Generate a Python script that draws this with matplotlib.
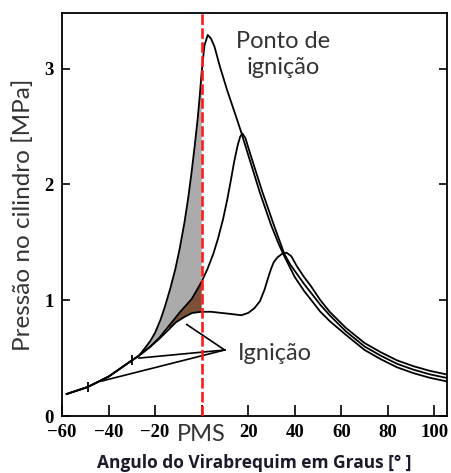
import numpy as np
import matplotlib
matplotlib.use('Agg')
import matplotlib.pyplot as plt

# shared compression line (before any ignition)
comp_deg = [-58, -49, -43, -40, -35, -30, -27]
comp_mpa = [0.19, 0.25, 0.31, 0.34, 0.41, 0.48, 0.52]

# early ignition -> peak ~3.3 MPa
a_deg = [-25, -22, -20, -17.7, -15.7, -13.5, -11.3, -9.5, -7.4, -5.8, -4.3, -3, -1.7, -0.8, 0,
         1.2, 2.6, 4, 5.5, 7.8, 11, 14.2, 17, 21.3, 25, 29.8, 33, 35.5, 40, 44, 51, 55, 62,
         70, 77, 84, 91, 98, 105]
a_mpa = [0.57, 0.65, 0.72, 0.83, 0.95, 1.10, 1.27, 1.44, 1.67, 1.88, 2.11, 2.33, 2.57, 2.77, 2.97,
         3.20, 3.29, 3.26, 3.19, 3.02, 2.81, 2.62, 2.45, 2.17, 1.93, 1.65, 1.49, 1.38, 1.20, 1.08,
         0.90, 0.82, 0.70, 0.57, 0.49, 0.42, 0.37, 0.33, 0.30]

# middle ignition -> peak ~2.45 MPa
b_deg = [-22, -18, -14, -12.8, -9.2, -4.3, 0, 2.5, 5, 7, 9.2, 11, 12.5, 14, 15.5, 16.5, 17.5, 18.8,
         20, 22.5, 26, 31, 35.5, 38, 44, 51, 55, 62, 70, 77, 84, 91, 98, 105]
b_mpa = [0.60, 0.68, 0.78, 0.81, 0.90, 1.01, 1.16, 1.27, 1.40, 1.53, 1.70, 1.87, 2.03, 2.20, 2.34,
         2.41, 2.44, 2.40, 2.32, 2.16, 1.94, 1.65, 1.40, 1.31, 1.14, 0.96, 0.87, 0.73, 0.60, 0.52,
         0.45, 0.40, 0.36, 0.33]

# late ignition -> peak ~1.4 MPa
c_deg = [-22, -18, -14, -11, -7, -4, 0, 4, 8.5, 13, 17, 20, 22.6, 25, 27, 28.5, 29.8, 31, 32.6,
         34.5, 36.5, 38.5, 41, 44, 47, 51, 55, 62, 70, 77, 84, 91, 98, 105]
c_mpa = [0.60, 0.67, 0.75, 0.81, 0.86, 0.89, 0.90, 0.90, 0.89, 0.88, 0.87, 0.89, 0.93, 0.99, 1.09,
         1.19, 1.27, 1.33, 1.37, 1.40, 1.41, 1.38, 1.29, 1.20, 1.12, 1.00, 0.90, 0.76, 0.63, 0.55,
         0.48, 0.43, 0.39, 0.36]

# ignition points and the label anchor
ign_deg = [-43.3, -26.9, -6.4]
ign_mpa = [0.30, 0.50, 0.79]
ign_label = (9.9, 0.57)

mark_deg = [-49, -29.8]
mark_mpa = [0.25, 0.48]

xticks = [-60, -40, -20, 0, 20, 40, 60, 80, 100]
xlabels = ['\u221260', '\u221240', '\u221220', 'PMS', '20', '40', '60', '80', '100']
yticks = [0, 1, 2, 3]

ax_deg = np.array(comp_deg + a_deg)
ax_mpa = np.array(comp_mpa + a_mpa)
bx_deg = np.array(comp_deg + b_deg)
bx_mpa = np.array(comp_mpa + b_mpa)
cx_deg = np.array(comp_deg + c_deg)
cx_mpa = np.array(comp_mpa + c_mpa)

fig = plt.figure(figsize=(4.51, 4.73), dpi=100)
ax = fig.add_axes([62/451, 57/473, 385/451, 403/473])

# shaded regions (gray between early and middle, brown between middle and late)
ma = (ax_deg >= -27) & (ax_deg <= 0)
mb = (bx_deg >= -27) & (bx_deg <= 0)
ax.fill(np.concatenate([ax_deg[ma], bx_deg[mb][::-1]]),
        np.concatenate([ax_mpa[ma], bx_mpa[mb][::-1]]), color='#ababab', lw=0, zorder=1)
mb2 = (bx_deg >= -14) & (bx_deg <= 0)
mc2 = (cx_deg >= -14) & (cx_deg <= 0)
ax.fill(np.concatenate([bx_deg[mb2], cx_deg[mc2][::-1]]),
        np.concatenate([bx_mpa[mb2], cx_mpa[mc2][::-1]]), color='#7a5038', lw=0, zorder=1)

for d, p in [(ax_deg, ax_mpa), (bx_deg, bx_mpa), (cx_deg, cx_mpa)]:
    ax.plot(d, p, color='black', lw=1.3, zorder=3)

ax.plot(mark_deg, mark_mpa, ls='none', marker='|', ms=7, mew=1.3, color='black', zorder=3)

for d, p in zip(ign_deg, ign_mpa):
    ax.plot([d, ign_label[0]], [p, ign_label[1]], color='black', lw=1.2, zorder=3)

ax.axvline(0, color='#ff1a1a', lw=1.9, ls=(0, (4, 1.3)), zorder=4)

txt = dict(family='Lato', color='#333333')
ax.text(35.1, 3.12, 'Ponto de\nignição', ha='center', va='center', fontsize=17,
        linespacing=1.3, **txt)
ax.text(15.5, 0.54, 'Ignição', ha='left', va='center', fontsize=17, **txt)

ax.set_xlim(-59.2, 105.4)
ax.set_ylim(0, 3.48)
ax.set_xticks(xticks)
ax.set_xticklabels(xlabels, family='Liberation Serif', fontweight='bold', fontsize=13.5)
ax.set_yticks(yticks)
ax.set_yticklabels([str(v) for v in yticks], family='Liberation Serif', fontweight='bold',
                   fontsize=13.5)
pms = ax.get_xticklabels()[3]
pms.set_fontfamily('Lato')
pms.set_fontweight('normal')
pms.set_fontsize(17)
pms.set_color('#333333')

ax.tick_params(axis='x', direction='in', length=8, width=1.2, pad=6)
ax.tick_params(axis='y', direction='in', length=6, width=1.2, pad=6, right=True)
for s in ax.spines.values():
    s.set_linewidth(1.3)

ax.set_ylabel('Pressão no cilindro [MPa]', family='Lato', fontsize=17.5, color='#333333')
ax.yaxis.set_label_coords(-0.072, 0.5)
ax.set_xlabel('Angulo do Virabrequim em Graus [° ]', family='Open Sans', fontweight='bold',
              fontsize=12.5, color='#1a1a2a', labelpad=6)

fig.savefig('out.png', dpi=100, facecolor='white')
